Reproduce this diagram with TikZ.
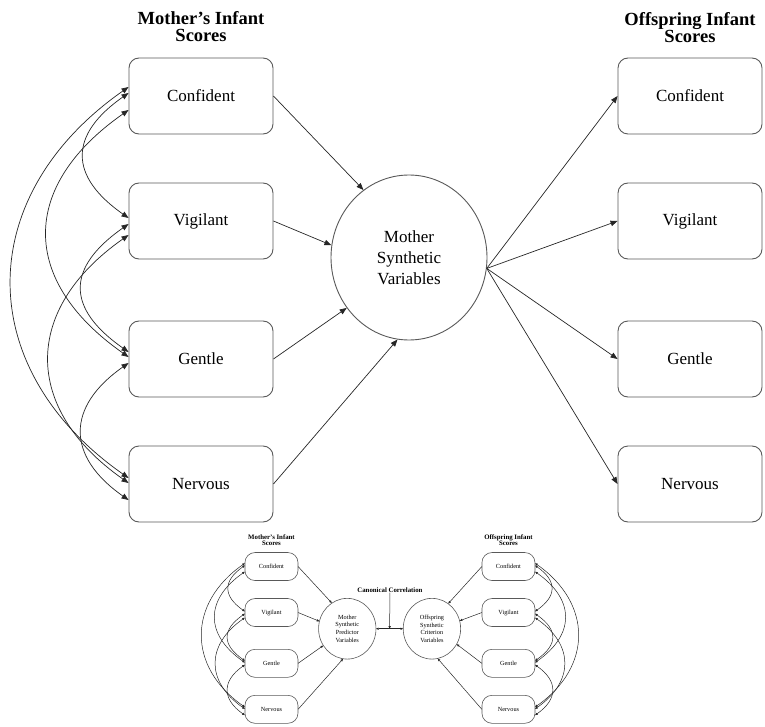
\documentclass[tikz,border=0pt]{standalone}
\usepackage{fontspec}
\setmainfont{Liberation Serif}
\usetikzlibrary{arrows.meta,calc,positioning,shapes.geometric}

% correlation arcs between the four score boxes of one side
\newcommand\corrarcs[4]{%
  \draw[corr] ($(#1conf.#2)+(0,3)$) to[out=#3,in=#4,looseness=1.5] ($(#1vig.#2)+(0,3)$);
  \draw[corr] ($(#1conf.#2)+(0,-14)$) to[out=#3,in=#4,looseness=1.38] ($(#1gent.#2)+(0,2)$);
  \draw[corr] ($(#1conf.#2)+(0,9)$) to[out=#3,in=#4,looseness=1.25] ($(#1nerv.#2)+(0,6)$);
  \draw[corr] ($(#1vig.#2)+(0,-3)$) to[out=#3,in=#4,looseness=1.53] ($(#1gent.#2)+(0,7)$);
  \draw[corr] ($(#1vig.#2)+(0,-14)$) to[out=#3,in=#4,looseness=1.34] ($(#1nerv.#2)+(0,1)$);
  \draw[corr] ($(#1gent.#2)+(0,-4)$) to[out=#3,in=#4,looseness=1.43] ($(#1nerv.#2)+(0,-16)$);
}

\begin{document}
\begin{tikzpicture}[x=1pt,y=1pt,>={Triangle[length=7pt,width=5.5pt]},
    box/.style={draw=black!65,line width=0.9pt,rounded corners=10pt,minimum width=144pt,minimum height=76pt,font=\fontsize{17}{20}\selectfont},
    synth/.style={draw=black!65,line width=0.9pt,ellipse,minimum width=156pt,minimum height=165pt,inner sep=0pt,align=center,font=\fontsize{17}{21}\selectfont},
    heading/.style={align=center,inner sep=0pt,font=\fontsize{18.5}{17}\selectfont\bfseries},
    link/.style={->,line width=0.7pt,black!85},
    corr/.style={<->,line width=0.7pt,black!85}]
  \useasboundingbox (0,0) rectangle (765,-727);

  \foreach \nm/\txt/\y in {conf/Confident/96,vig/Vigilant/221,gent/Gentle/359,nerv/Nervous/484} {
    \node[box] (m\nm) at (201,-\y) {\txt};
    \node[box] (o\nm) at (690,-\y) {\txt};
  }
  \node[synth] (msyn) at (409,-257.5) {Mother\\Synthetic\\Variables};
  \node[heading,above=16pt of mconf] (mhead) {Mother's Infant\\Scores};
  \node[heading,above=15pt of oconf] (ohead) {Offspring Infant\\Scores};

  \draw[link] (mconf.east) -- (msyn.124);
  \draw[link] (mvig.east) -- (msyn.171);
  \draw[link] (mgent.east) -- (msyn.219);
  \draw[link] (mnerv.east) -- (msyn.262);
  \coordinate (mout) at (msyn.352);
  \foreach \nm in {conf,vig,gent,nerv} \draw[link] (mout) -- (o\nm.west);
  \corrarcs{m}{west}{215}{145}

  % small copy: the full canonical correlation model
  \begin{scope}[shift={(197.5,-531.2)},scale=0.368,transform shape,
      >={Triangle[length=2.6pt,width=2.2pt]},
      link/.append style={line width=0.5pt},corr/.append style={line width=0.5pt},
      box/.append style={line width=0.6pt},synth/.append style={line width=0.6pt}]
    \foreach \nm/\txt/\y in {conf/Confident/96,vig/Vigilant/221,gent/Gentle/359,nerv/Nervous/484} {
      \node[box] (sm\nm) at (201,-\y) {\txt};
      \node[box] (so\nm) at (845,-\y) {\txt};
    }
    \node[synth] (smsyn) at (407,-265) {Mother\\Synthetic\\Predictor\\Variables};
    \node[synth] (sosyn) at (637,-265) {Offspring\\Synthetic\\Criterion\\Variables};
    \node[heading] (smhead) at (201,-24) {Mother's Infant\\Scores};
    \node[heading] (sohead) at (845,-24) {Offspring Infant\\Scores};
    \node[heading] (canon) at (523,-160) {Canonical Correlation};

    \draw[corr] (smsyn) -- coordinate (cmid) (sosyn);
    \draw[link] (canon) -- (cmid);
    \draw[link] (smconf.east) -- (smsyn.121);
    \draw[link] (smvig.east) -- (smsyn.165);
    \draw[link] (smgent.east) -- (smsyn.215);
    \draw[link] (smnerv.east) -- (smsyn.262);
    \draw[link] (soconf.west) -- (sosyn.57);
    \draw[link] (sovig.west) -- (sosyn.16);
    \draw[link] (sogent.west) -- (sosyn.-32);
    \draw[link] (sonerv.west) -- (sosyn.-79);
    \corrarcs{sm}{west}{215}{145}
    \corrarcs{so}{east}{-35}{35}
  \end{scope}
\end{tikzpicture}
\end{document}
